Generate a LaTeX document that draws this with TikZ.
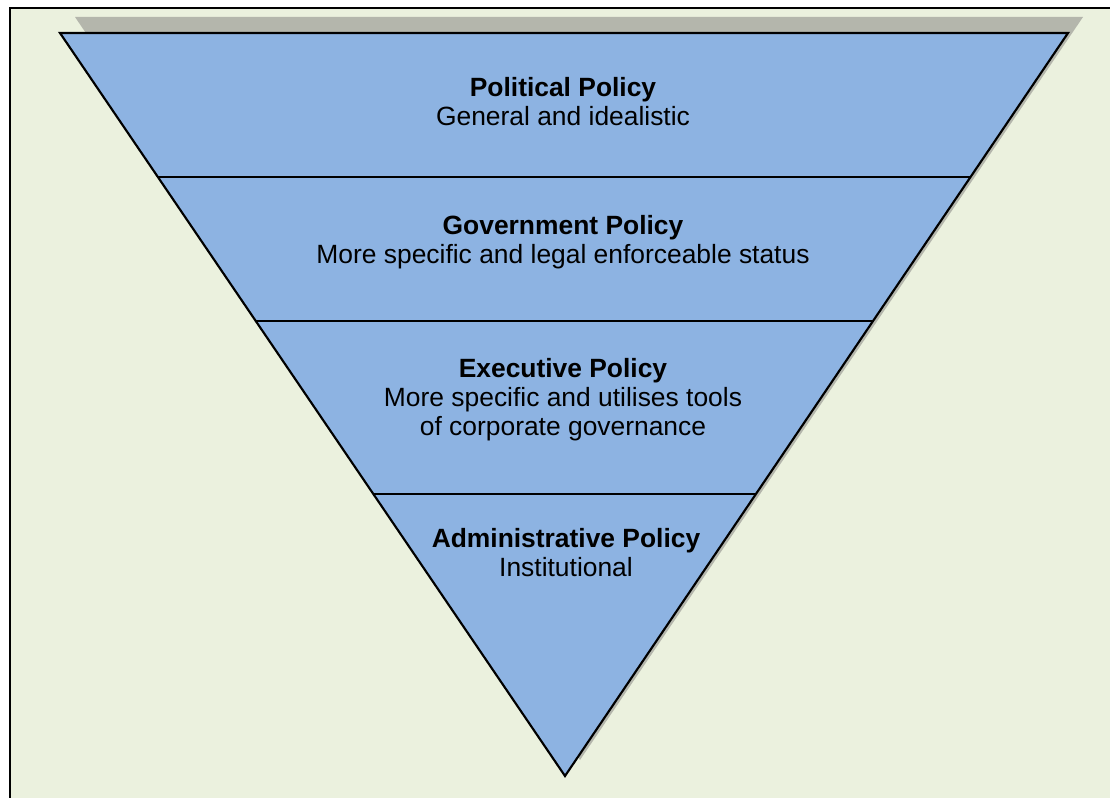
\documentclass[tikz,border=0pt]{standalone}
\usepackage{fontspec}
\setmainfont{Liberation Sans}
\usetikzlibrary{calc, positioning}
\definecolor{LayerBlue}{RGB}{141, 179, 226}
\definecolor{PageGreen}{RGB}{235, 241, 222}
\definecolor{ShadowGrey}{RGB}{180, 182, 172}

\tikzset{
  layertext/.style={align=center, font=\fontsize{19.8}{21.75}\selectfont, inner sep=0pt},
  edge/.style={line width=1.6pt, line join=miter}
}

\begin{document}
\begin{tikzpicture}[x={(0.75pt,0)}, y={(0,-0.75pt)}]
    \useasboundingbox (0,0) rectangle (1110,798);
    \fill[white] (0,0) rectangle (1110,798);
    \draw[line width=1.6pt, fill=PageGreen] (10,8) rectangle (1125,815);

    % Corners of the funnel
    \coordinate (L) at (60,33);
    \coordinate (R) at (1068,33);
    \coordinate (A) at (565,776);

    % Shadow
    \fill[ShadowGrey] ([shift={(15,-16)}]L) -- ([shift={(15,-16)}]R) -- ([shift={(15,-16)}]A) -- cycle;

    \draw[edge, fill=LayerBlue] (L) -- (R) -- (A) -- cycle;

    % Layer boundaries
    \foreach \t in {0.1938, 0.3876, 0.6205}
      \draw[line width=1.1pt] ($(L)!\t!(A)$) -- ($(R)!\t!(A)$);

    % Labels for layers
    \node[layertext] (political) at (563,102) {\textbf{Political Policy}\\General and idealistic};
    \node[layertext] (government) at (563,242) {\textbf{Government Policy}\\More specific and legal enforceable status};
    \node[layertext] (executive) at (563,400) {\textbf{Executive Policy}\\More specific and utilises tools\\of corporate governance};
    \node[layertext] (administrative) at (566,553) {\textbf{Administrative Policy}\\Institutional};
  \end{tikzpicture}
\end{document}
